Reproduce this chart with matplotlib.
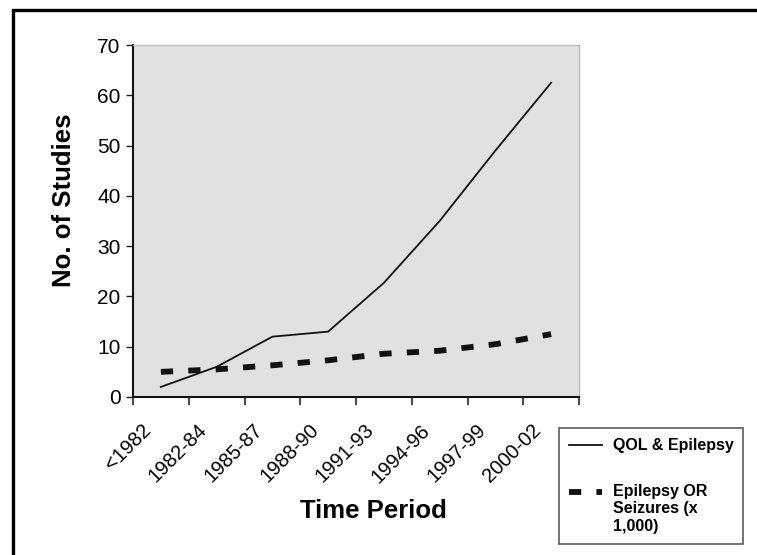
import matplotlib
matplotlib.use("Agg")
import matplotlib.pyplot as plt
import matplotlib.transforms as mtransforms
from matplotlib.patches import Rectangle
from matplotlib.legend_handler import HandlerLine2D
import numpy as np

plt.rcParams['font.family'] = ['Liberation Sans', 'DejaVu Sans']

periods = ["<1982", "1982-84", "1985-87", "1988-90", "1991-93", "1994-96", "1997-99", "2000-02"]
qol_epilepsy = [2, 6, 12, 13, 22.7, 35, 49, 62.5]
epilepsy_seizures_k = [5.0, 5.5, 6.3, 7.3, 8.6, 9.2, 10.5, 12.5]

series_labels = ["QOL & Epilepsy", "Epilepsy OR\nSeizures (x\n1,000)"]

W, H = 757, 555
fig = plt.figure(figsize=(W / 100, H / 100), dpi=100)
fig.patch.set_facecolor('white')

ax = fig.add_axes([133 / W, 1 - 397 / H, (579 - 133) / W, (397 - 45) / H])
ax.set_facecolor('#e1e1e1')

x = np.arange(len(periods)) + 0.5
l1, = ax.plot(x, qol_epilepsy, color='#111111', lw=1.3, solid_joinstyle='miter')
l2, = ax.plot(x, epilepsy_seizures_k, color='#111111', lw=4.2, dashes=(2.1, 2.6),
              dash_capstyle='butt')

ax.set_xlim(0, len(periods))
ax.set_ylim(0, 70)
ax.set_yticks(np.arange(0, 71, 10))

ax.set_xticks(np.arange(0, len(periods) + 1))
ax.set_xticklabels([])
ax.set_xticks(x, minor=True)
ax.set_xticklabels(periods, minor=True, rotation=45, ha='right', fontsize=14.5)
ax.tick_params(axis='x', which='major', direction='out', length=6, width=1.2, color='#222222')
ax.tick_params(axis='x', which='minor', length=0, pad=17)
ax.tick_params(axis='y', direction='out', length=5, width=1.0, labelsize=15, pad=4, color='#222222')

shift = mtransforms.ScaledTranslation(-6 / 100, 0, fig.dpi_scale_trans)
for lab in ax.get_xticklabels(minor=True):
    lab.set_transform(lab.get_transform() + shift)

for s in ['left', 'bottom']:
    ax.spines[s].set_color('#111111')
    ax.spines[s].set_linewidth(1.5)
for s in ['top', 'right']:
    ax.spines[s].set_color('#bdbdbd')
    ax.spines[s].set_linewidth(1.0)

ax.set_ylabel("No. of Studies", fontsize=18.5, fontweight='bold')
ax.yaxis.set_label_coords((64 - 133) / 446, (397 - 200) / 352)
ax.set_xlabel("Time Period", fontsize=18.5, fontweight='bold')
ax.xaxis.set_label_coords((373 - 133) / 446, (397 - 511) / 352)
ax.xaxis.label.set_va('center')
ax.yaxis.label.set_va('center')


class TopAlignedLine(HandlerLine2D):
    def __init__(self, yoffset=0.0, **kw):
        super().__init__(**kw)
        self.yoffset = yoffset

    def create_artists(self, legend, orig_handle, xdescent, ydescent, width, height,
                       fontsize, trans):
        arts = super().create_artists(legend, orig_handle, xdescent, ydescent, width,
                                      height, fontsize, trans)
        for a in arts:
            if hasattr(a, 'get_ydata'):
                a.set_ydata(np.asarray(a.get_ydata()) + self.yoffset)
        return arts


leg = fig.legend([l1, l2], series_labels, loc='upper left',
                 bbox_to_anchor=(559 / W, 1 - 542 / H, (743 - 559) / W, (542 - 428) / H),
                 mode='expand', borderaxespad=0, prop={'weight': 'bold', 'size': 11.5},
                 handlelength=2.05, handletextpad=0.7, labelspacing=1.9,
                 borderpad=0.65, frameon=True, fancybox=False,
                 handler_map={l2: TopAlignedLine(yoffset=12.5)})
leg.get_frame().set_edgecolor('#333333')
leg.get_frame().set_linewidth(1.2)

fig.add_artist(Rectangle((13 / W, -0.1), 1.2, (1 - 10 / H) + 0.1, transform=fig.transFigure,
                         fill=False, lw=2.4, ec='black'))

fig.savefig("out.png", dpi=100)
